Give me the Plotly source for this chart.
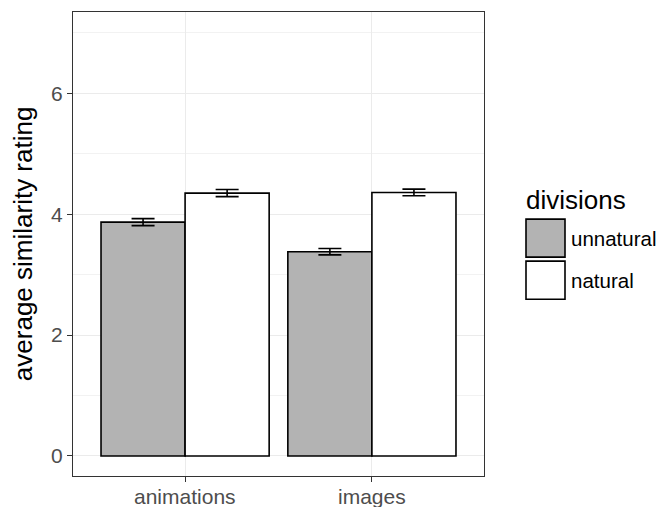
import plotly.graph_objects as go

categories = ["animations", "images"]
series_names = ["unnatural", "natural"]
unnatural_vals = [3.87, 3.38]
natural_vals = [4.35, 4.36]
unnatural_err = [0.058, 0.052]
natural_err = [0.058, 0.055]
y_ticks = [0, 2, 4, 6]

fills = {"unnatural": "#B3B3B3", "natural": "#FFFFFF"}

# panel target in window px: x 73..484, y 12..475.7 (body margin removed below)
PL, PR, PT, PB = 73, 484, 12, 475.7
PW, PH = PR - PL, PB - PT

fig = go.Figure()
for name, vals, errs in [("unnatural", unnatural_vals, unnatural_err),
                         ("natural", natural_vals, natural_err)]:
    fig.add_trace(go.Bar(
        x=categories, y=vals, name=name,
        marker=dict(color=fills[name], line=dict(color="black", width=1.6)),
        error_y=dict(type="data", array=errs, visible=True, color="black",
                     thickness=1.6, width=11.5),
        showlegend=False,
    ))

fig.update_layout(
    width=662, height=507,
    margin=dict(l=PL, r=662 - PR, t=PT, b=507 - PB),
    barmode="group", bargap=0.1, bargroupgap=0,
    plot_bgcolor="white", paper_bgcolor="white",
    font=dict(family="Liberation Sans, Arial, sans-serif", color="#4D4D4D", size=21),
    xaxis=dict(range=[-0.6, 1.6], showgrid=True, gridcolor="#EBEBEB", gridwidth=1.2,
               ticks="outside", ticklen=5, tickcolor="#333333", tickwidth=1.1,
               showline=True, linecolor="#333333", linewidth=1.2, mirror=True,
               showticklabels=False, zeroline=False, automargin=False),
    yaxis=dict(range=[-0.331, 7.346], tickvals=y_ticks, showgrid=True,
               gridcolor="#EBEBEB", gridwidth=1.2,
               minor=dict(dtick=1, tick0=0, showgrid=True, gridcolor="#F2F2F2", gridwidth=0.6),
               ticks="outside", ticklen=5, tickcolor="#333333", tickwidth=1.1,
               showline=True, linecolor="#333333", linewidth=1.2, mirror=True,
               zeroline=False, tickfont=dict(size=21, color="#4D4D4D"), automargin=False),
)

def px_x(x):
    return (x - PL) / PW

def px_y(y):
    return (PB - y) / PH

# x tick labels placed at the category positions
for cat in categories:
    fig.add_annotation(xref="x", yref="paper", x=cat, y=px_y(483), text=cat,
                       showarrow=False, xanchor="center", yanchor="top",
                       font=dict(size=21, color="#4D4D4D"))

# y-axis title as rotated text
fig.add_annotation(xref="paper", yref="paper", x=px_x(23), y=px_y(244), textangle=-90,
                   text="average similarity rating", showarrow=False,
                   xanchor="center", yanchor="middle", font=dict(size=26, color="black"))

# Manual legend (ggplot-style large keys)
fig.add_annotation(xref="paper", yref="paper", x=px_x(524), y=px_y(199.5),
                   text="divisions", showarrow=False, xanchor="left", yanchor="middle",
                   font=dict(size=26, color="black"))
key_tops = [219, 261]
for name, top in zip(series_names, key_tops):
    x0, x1 = px_x(526), px_x(565)
    y0, y1 = px_y(top + 38), px_y(top)
    fig.add_shape(type="rect", xref="paper", yref="paper", x0=x0, x1=x1, y0=y0, y1=y1,
                  fillcolor=fills[name], line=dict(color="black", width=1.6))
    fig.add_annotation(xref="paper", yref="paper", x=px_x(569), y=(y0 + y1) / 2,
                       text=name, showarrow=False, xanchor="left", yanchor="middle",
                       font=dict(size=20.5, color="black"))

fig.write_html("out.html", config={"displayModeBar": False},
               post_script="document.body.style.margin='0';document.body.style.overflow='hidden';")
